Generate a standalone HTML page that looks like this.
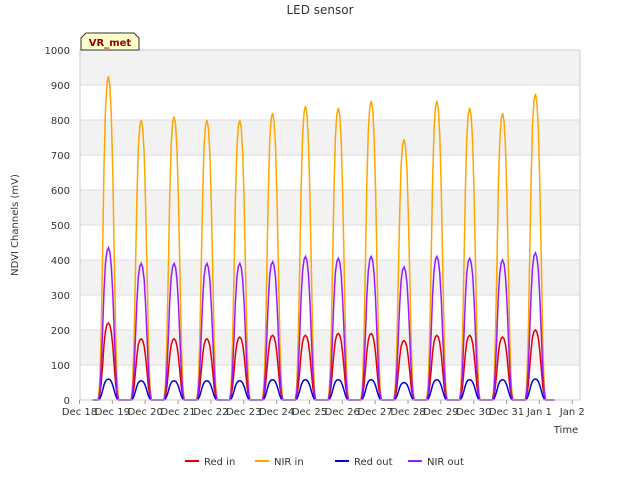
<!DOCTYPE html>
<html><head><meta charset="utf-8"><style>
body{margin:0;background:#fff;font-family:"DejaVu Sans",sans-serif}
</style></head><body>
<svg id="c" width="640" height="480" xmlns="http://www.w3.org/2000/svg" font-family="DejaVu Sans, sans-serif">
<rect width="640" height="480" fill="#fff"/>
<g id="bands"></g><g id="grid"></g><g id="series"></g><g id="axes"></g>
<text x="320" y="14" text-anchor="middle" font-size="12" fill="#333">LED sensor</text>
<text x="18" y="225" text-anchor="middle" font-size="10" fill="#333" transform="rotate(-90 18 225)">NDVI Channels (mV)</text>
<text x="566" y="433" text-anchor="middle" font-size="10" fill="#333">Time</text>
<g><path d="M81,50 L81,38 L86,33 L134,33 L139,38 L139,50 Z" fill="#ffffcc" stroke="#333"/><text x="110" y="46" text-anchor="middle" font-size="10" font-weight="bold" fill="#8b0000">VR_met</text></g>
<g id="legend"></g>
</svg>
<script>
const days=["Dec 18","Dec 19","Dec 20","Dec 21","Dec 22","Dec 23","Dec 24","Dec 25","Dec 26","Dec 27","Dec 28","Dec 29","Dec 30","Dec 31","Jan 1","Jan 2"];
const yTicks=[0,100,200,300,400,500,600,700,800,900,1000];
const seriesNames=["Red in","NIR in","Red out","NIR out"];
const seriesColors=["#e00000","#ffa500","#0000e0","#9a1aff"];
const redIn=[220,175,175,175,180,185,185,190,190,170,185,185,180,200];
const nirIn=[925,800,810,800,800,820,840,835,855,745,855,835,820,875];
const redOut=[60,55,55,55,55,58,58,58,58,50,58,58,58,60];
const nirOut=[435,390,390,390,390,395,410,405,410,380,410,405,400,420];
const profile=[0,0.05,0.2,0.45,0.72,0.9,0.98,1,0.97,0.88,0.7,0.45,0.2,0.05,0];
const NS="http://www.w3.org/2000/svg";
const x0=80,x1=580,y0=400,y1=50,dayW=32.85;
const X=d=>79.5+d*dayW, Y=v=>y0-(v/1000)*(y0-y1);
function mk(t,a,p){const e=document.createElementNS(NS,t);for(const k in a)e.setAttribute(k,a[k]);p.appendChild(e);return e;}
const bands=document.getElementById('bands'),grid=document.getElementById('grid'),ser=document.getElementById('series'),axes=document.getElementById('axes'),leg=document.getElementById('legend');
for(let i=0;i<yTicks.length-1;i++){if(i%2===1){const r=mk('rect',{x:x0,y:Y(yTicks[i+1]),width:x1-x0,height:Y(yTicks[i])-Y(yTicks[i+1]),fill:'#f2f2f2'},bands);}}
yTicks.forEach(v=>{mk('line',{x1:x0,x2:x1,y1:Y(v),y2:Y(v),stroke:'#ddd'},grid);
const t=mk('text',{x:x0-10,y:Y(v)+4,'text-anchor':'end','font-size':10,fill:'#333'},axes);t.textContent=v;
});
days.forEach((d,i)=>{mk('line',{x1:X(i),x2:X(i),y1:y0,y2:y0+4,stroke:'#999'},axes);
const t=mk('text',{x:X(i),y:y0+15,'text-anchor':'middle','font-size':10,fill:'#333'},axes);t.textContent=d;
});
mk('rect',{x:x0,y:y1,width:x1-x0,height:y0-y1,fill:'none',stroke:'#ccc'},axes);
const data=[redIn,nirIn,redOut,nirOut];
data.forEach((arr,s)=>{let pts=[[X(0.4),Y(0)]];
arr.forEach((pk,d)=>{const c=d+0.88,w=0.62;pts.push([X(c-w/2-0.05),Y(0)]);
profile.forEach((p,j)=>{pts.push([X(c-w/2+w*j/(profile.length-1)),Y(pk*p)]);});
pts.push([X(c+w/2+0.05),Y(0)]);});
pts.push([X(14.45),Y(0)]);
const p=mk('polyline',{points:pts.map(q=>q[0].toFixed(1)+','+q[1].toFixed(1)).join(' '),fill:'none',stroke:seriesColors[s],'stroke-width':1.5},ser);
});
const lx=[185,255,335,408];
seriesNames.forEach((n,i)=>{const g=mk('g',{},leg);
mk('line',{x1:lx[i],x2:lx[i]+14,y1:461,y2:461,stroke:seriesColors[i],'stroke-width':2},g);
const t=mk('text',{x:lx[i]+19,y:465,'font-size':10,fill:'#333'},g);t.textContent=n;});
</script>
</body></html>
